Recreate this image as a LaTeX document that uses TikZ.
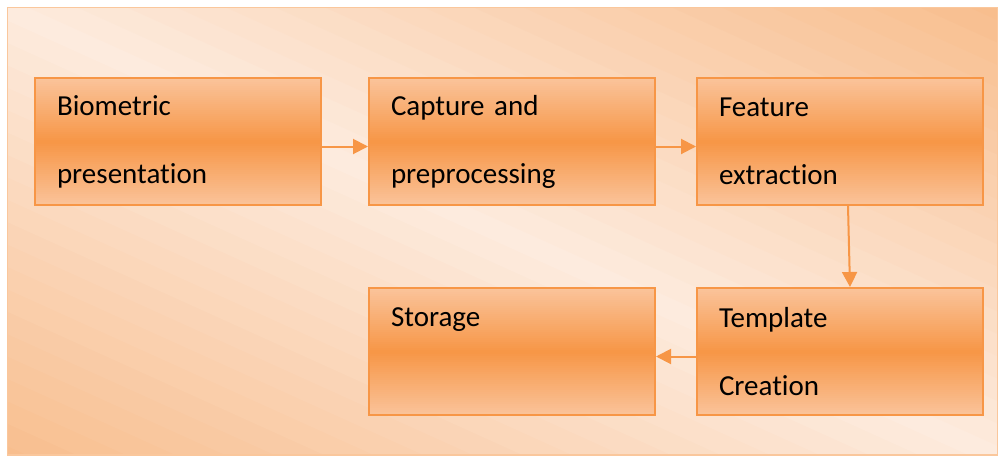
\documentclass[tikz,border=0pt]{standalone}
\usepackage{fontspec}
\setmainfont{Carlito}[Ligatures=NoCommon]
\usetikzlibrary{arrows.meta}
\definecolor{accent}{HTML}{F79646}
\definecolor{boxlight}{HTML}{FAC39A}
\definecolor{bgdark}{HTML}{F8BE8E}
\definecolor{bglight}{HTML}{FDEBDE}
\definecolor{framecol}{HTML}{FAC79C}
\tikzset{
  stage/.style={rectangle, draw=accent, line width=2pt,
    minimum width=286pt, minimum height=127pt,
    text width=242pt, inner xsep=22pt, align=left,
    font=\fontsize{29pt}{68pt}\selectfont,
    path picture={
      \foreach \k [evaluate=\k as \mix using {100*(1-abs(\k-31.5)/31.5)}] in {0,...,63}
        \fill[accent!\mix!boxlight] ([yshift={-2pt*\k}]path picture bounding box.north west)
          rectangle ([yshift={-2pt*\k-2.3pt}]path picture bounding box.north east);
    }},
  flow/.style={draw=accent, line width=2pt, -{Triangle[length=15pt,width=15pt]}}
}

\begin{document}
\begin{tikzpicture}[node distance=334pt]
      \useasboundingbox (0,0) rectangle (998pt,-456pt);
      % background panel
      \begin{scope}[shift={(7pt,-7pt)}, x=991pt, y=-448pt]
        \clip (0,0) rectangle (1,1);
        \foreach \s [evaluate=\s as \mix using {min(100,100*abs(\s))}] in {-1.2,-1.15,...,1.25}
          \fill[bgdark!\mix!bglight] (\s-0.03,0) -- (\s+0.97,1) -- (\s+1.03,1) -- (\s+0.03,0) -- cycle;
        \draw[framecol, line width=1.5pt] (0,0) rectangle (1,1);
      \end{scope}

      \node [stage] (1) at (178pt,-141.5pt) {Biometric\\presentation};
      \node [stage, right of=1] (2) {Capture and\\preprocessing};
      \node [stage, right of=2, xshift=-6pt] (3) {Feature\\extraction};
      \node [stage, node distance=210pt, below of=3] (4) {Template\\Creation};
      \node [stage, node distance=210pt, below of=2] (5) {Storage\\~};

      \draw[flow] ([yshift=-5pt]1.east) -- ([yshift=-5pt]2.west);
      \draw[flow] ([yshift=-5pt]2.east) -- ([yshift=-5pt]3.west);
      \draw[flow] ([xshift=8pt]3.south) -- ([xshift=10pt]4.north);
      \draw[flow] ([yshift=-5pt]4.west) -- ([yshift=-5pt]5.east);
    \end{tikzpicture}
\end{document}
